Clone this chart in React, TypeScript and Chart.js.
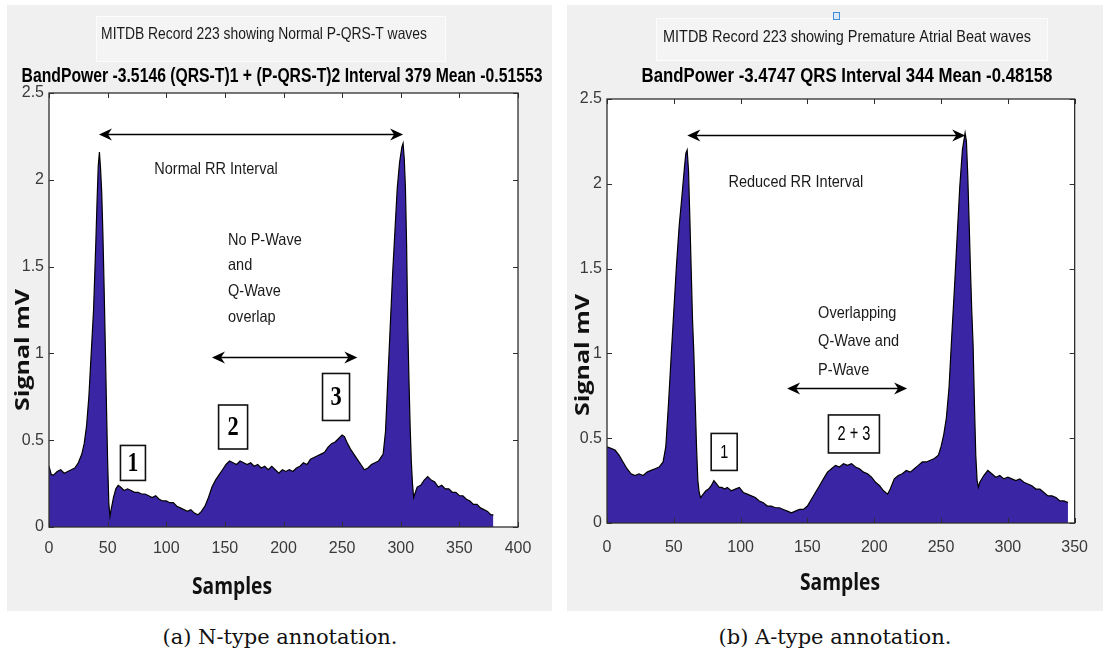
import React, { useEffect, useRef } from "react";
import { Chart, registerables } from "chart.js";

Chart.register(...registerables);

// ---------- Data: panel (a) N-type ----------
const N_X = [0, 2, 4, 7, 10, 13, 16, 19, 22, 25, 28, 30, 32, 34, 36, 38, 39, 40, 41, 42, 43, 44, 45, 46, 47, 48, 49, 50, 51, 52, 53, 55, 57, 59, 61, 64, 67, 70, 73, 76, 79, 82, 85, 88, 91, 94, 97, 100, 103, 106, 109, 112, 115, 118, 121, 124, 127, 130, 133, 136, 139, 142, 145, 148, 151, 154, 157, 160, 163, 166, 169, 172, 175, 178, 181, 184, 187, 190, 193, 196, 199, 202, 205, 208, 211, 214, 217, 220, 223, 226, 229, 232, 235, 238, 241, 244, 247, 250, 252, 254, 257, 260, 263, 266, 269, 272, 275, 278, 281, 283, 285, 287, 289, 291, 293, 295, 297, 299, 301, 302, 303, 304, 305, 306, 307, 308, 309, 310, 311, 312, 314, 317, 320, 323, 326, 329, 332, 335, 338, 341, 344, 347, 350, 353, 356, 359, 362, 365, 368, 371, 374, 377, 379];
const N_Y = [0.35, 0.30, 0.30, 0.32, 0.33, 0.31, 0.32, 0.33, 0.34, 0.37, 0.42, 0.48, 0.58, 0.75, 1.00, 1.25, 1.45, 1.65, 1.88, 2.08, 2.16, 2.06, 1.92, 1.68, 1.38, 1.05, 0.70, 0.38, 0.14, 0.06, 0.10, 0.17, 0.22, 0.24, 0.23, 0.21, 0.22, 0.21, 0.20, 0.20, 0.19, 0.19, 0.18, 0.17, 0.18, 0.16, 0.15, 0.15, 0.14, 0.14, 0.12, 0.11, 0.10, 0.09, 0.10, 0.08, 0.07, 0.09, 0.12, 0.17, 0.23, 0.27, 0.30, 0.33, 0.36, 0.38, 0.37, 0.36, 0.38, 0.37, 0.36, 0.37, 0.35, 0.36, 0.34, 0.35, 0.33, 0.35, 0.33, 0.31, 0.33, 0.32, 0.33, 0.32, 0.34, 0.35, 0.37, 0.36, 0.39, 0.40, 0.41, 0.42, 0.43, 0.46, 0.48, 0.49, 0.51, 0.53, 0.52, 0.49, 0.45, 0.42, 0.39, 0.36, 0.33, 0.34, 0.36, 0.37, 0.38, 0.40, 0.42, 0.55, 0.85, 1.15, 1.45, 1.70, 1.95, 2.10, 2.19, 2.21, 2.12, 1.95, 1.62, 1.15, 0.85, 0.58, 0.38, 0.25, 0.17, 0.19, 0.23, 0.24, 0.27, 0.29, 0.27, 0.26, 0.23, 0.24, 0.22, 0.22, 0.20, 0.20, 0.18, 0.18, 0.16, 0.15, 0.13, 0.13, 0.11, 0.10, 0.09, 0.07, 0.07];

// ---------- Data: panel (b) A-type ----------
const A_X = [0, 3, 6, 9, 12, 15, 18, 21, 24, 27, 30, 33, 36, 39, 42, 44, 46, 48, 50, 52, 54, 56, 58, 59, 60, 61, 62, 63, 64, 65, 66, 67, 68, 69, 70, 72, 74, 76, 78, 80, 82, 84, 86, 88, 90, 93, 96, 99, 102, 105, 108, 111, 114, 117, 120, 123, 126, 129, 132, 135, 138, 141, 144, 147, 150, 153, 156, 159, 162, 165, 168, 171, 174, 177, 180, 183, 186, 189, 192, 195, 198, 201, 204, 207, 210, 212, 215, 218, 221, 224, 227, 230, 233, 236, 239, 242, 245, 248, 250, 252, 254, 256, 258, 260, 262, 264, 266, 268, 269, 270, 271, 272, 273, 274, 275, 276, 277, 278, 279, 282, 285, 288, 291, 294, 297, 300, 303, 306, 309, 312, 315, 318, 321, 324, 327, 330, 333, 336, 339, 342, 345];
const A_Y = [0.45, 0.44, 0.43, 0.40, 0.36, 0.32, 0.29, 0.28, 0.29, 0.28, 0.30, 0.31, 0.32, 0.33, 0.36, 0.45, 0.70, 0.98, 1.25, 1.52, 1.75, 1.92, 2.10, 2.18, 2.20, 2.08, 1.80, 1.50, 1.20, 1.00, 0.72, 0.45, 0.25, 0.18, 0.15, 0.17, 0.19, 0.20, 0.22, 0.25, 0.23, 0.21, 0.21, 0.20, 0.21, 0.19, 0.20, 0.21, 0.18, 0.17, 0.16, 0.15, 0.13, 0.12, 0.10, 0.10, 0.09, 0.09, 0.08, 0.07, 0.06, 0.07, 0.08, 0.08, 0.10, 0.14, 0.18, 0.22, 0.26, 0.30, 0.32, 0.34, 0.33, 0.35, 0.34, 0.35, 0.33, 0.32, 0.30, 0.29, 0.27, 0.24, 0.22, 0.19, 0.17, 0.20, 0.26, 0.28, 0.29, 0.31, 0.30, 0.32, 0.34, 0.36, 0.36, 0.37, 0.38, 0.40, 0.45, 0.52, 0.62, 0.80, 1.10, 1.38, 1.68, 1.98, 2.20, 2.30, 2.25, 2.05, 1.78, 1.50, 1.25, 1.05, 0.70, 0.40, 0.25, 0.21, 0.24, 0.28, 0.31, 0.29, 0.27, 0.28, 0.26, 0.27, 0.26, 0.25, 0.26, 0.24, 0.23, 0.22, 0.20, 0.20, 0.18, 0.16, 0.16, 0.15, 0.13, 0.13, 0.12];

// ---------- Ticks ----------
const N_X_TICKS = [0, 50, 100, 150, 200, 250, 300, 350, 400];
const A_X_TICKS = [0, 50, 100, 150, 200, 250, 300, 350];
const Y_TICKS = [0, 0.5, 1, 1.5, 2, 2.5];

// ---------- Texts ----------
const N_HEAD = "MITDB Record 223 showing Normal P-QRS-T waves";
const N_TITLE = "BandPower -3.5146 (QRS-T)1 + (P-QRS-T)2 Interval 379 Mean -0.51553";
const A_HEAD = "MITDB Record 223 showing Premature Atrial Beat waves";
const A_TITLE = "BandPower -3.4747 QRS Interval 344 Mean -0.48158";
const X_LABEL = "Samples";
const Y_LABEL = "Signal mV";
const N_CAPTION = "(a) N-type annotation.";
const A_CAPTION = "(b) A-type annotation.";
const N_NOTES = [["Normal RR Interval"], ["No P-Wave", "and", "Q-Wave", "overlap"]];
const A_NOTES = [["Reduced RR Interval"], ["Overlapping", "Q-Wave and", "P-Wave"]];
const N_BOXES = ["1", "2", "3"];
const A_BOXES = ["1", "2 + 3"];

const FILL = "rgb(58,38,165)";
const SANS = '"Liberation Sans", Arial, sans-serif';

function fontAvailable(name: string) {
  const c = document.createElement("canvas").getContext("2d");
  if (!c) return false;
  const s = "mmmmmmmmmmlli0123456789WWW";
  c.font = "40px monospace";
  const a = c.measureText(s).width;
  c.font = `40px "${name}", monospace`;
  const b = c.measureText(s).width;
  return Math.abs(a - b) > 0.5;
}

function drawText(ctx: CanvasRenderingContext2D, s: string, x: number, y: number, font: string, sx: number, align: CanvasTextAlign = "center", rot = 0, color = "#111") {
  ctx.save();
  ctx.translate(x, y);
  ctx.scale(sx, 1);
  if (rot) ctx.rotate(rot);
  ctx.font = font;
  ctx.fillStyle = color;
  ctx.textAlign = align;
  ctx.textBaseline = "middle";
  ctx.fillText(s, 0, 0);
  ctx.restore();
}

function drawArrow(ctx: CanvasRenderingContext2D, x1: number, x2: number, y: number) {
  ctx.save();
  ctx.strokeStyle = "#000";
  ctx.fillStyle = "#000";
  ctx.lineWidth = 1.6;
  ctx.beginPath();
  ctx.moveTo(x1 + 8, y);
  ctx.lineTo(x2 - 8, y);
  ctx.stroke();
  const head = (tx: number, dir: number) => {
    const L = 13, W = 6, N = 9;
    ctx.beginPath();
    ctx.moveTo(tx, y);
    ctx.lineTo(tx - dir * L, y - W);
    ctx.lineTo(tx - dir * N, y);
    ctx.lineTo(tx - dir * L, y + W);
    ctx.closePath();
    ctx.fill();
  };
  head(x1, -1);
  head(x2, 1);
  ctx.restore();
}

type Note = { lines: string[]; x: number; y: number; align: CanvasTextAlign; lh: number; sx: number };
type Box = { label: string; x: number; y: number; w: number; h: number; font: string; sx: number };
type PanelCfg = {
  xs: number[]; ys: number[]; xMax: number; xTicks: number[];
  yAxisWidth: number; xAxisHeight: number; padRight: number; padTop: number; xTickPad: number;
  headBox: number[]; marker?: number[];
  head: { text: string; x: number; y: number; size: number; sx: number };
  title: { text: string; x: number; y: number; size: number; sx: number };
  ylab: { x: number; y: number }; xlab: { x: number; y: number };
  arrows: { x1: number; x2: number; y: number }[];
  notes: Note[]; boxes: Box[];
};

const N_CFG: PanelCfg = {
  xs: N_X, ys: N_Y, xMax: 400, xTicks: N_X_TICKS,
  yAxisWidth: 42, xAxisHeight: 84, padRight: 34, padTop: 88, xTickPad: 12,
  headBox: [89, 11, 349, 45],
  head: { text: N_HEAD, x: 257, y: 29, size: 16.5, sx: 0.84 },
  title: { text: N_TITLE, x: 275, y: 71, size: 20, sx: 0.787 },
  ylab: { x: 16, y: 345 }, xlab: { x: 225, y: 582 },
  arrows: [{ x1: 42.6, x2: 302, y: 2.265 }, { x1: 139, x2: 263, y: 0.98 }],
  notes: [
    { lines: N_NOTES[0], x: 142.4, y: 2.06, align: "center", lh: 26, sx: 0.88 },
    { lines: N_NOTES[1], x: 152.7, y: 1.653, align: "left", lh: 25.7, sx: 0.88 },
  ],
  boxes: [
    { label: N_BOXES[0], x: 71.6, y: 0.369, w: 25, h: 35, font: 'bold 27px "Liberation Serif", serif', sx: 0.8 },
    { label: N_BOXES[1], x: 157, y: 0.576, w: 29, h: 44, font: 'bold 28px "Liberation Serif", serif', sx: 0.8 },
    { label: N_BOXES[2], x: 244.8, y: 0.749, w: 27, h: 47, font: 'bold 28px "Liberation Serif", serif', sx: 0.8 },
  ],
};

const A_CFG: PanelCfg = {
  xs: A_X, ys: A_Y, xMax: 350, xTicks: A_X_TICKS,
  yAxisWidth: 40, xAxisHeight: 88, padRight: 11, padTop: 94, xTickPad: 15,
  headBox: [89, 13, 391, 42], marker: [266, 7, 6, 7],
  head: { text: A_HEAD, x: 280, y: 32, size: 16.5, sx: 0.876 },
  title: { text: A_TITLE, x: 280, y: 71, size: 20, sx: 0.84 },
  ylab: { x: 16, y: 350 }, xlab: { x: 273, y: 578 },
  arrows: [{ x1: 60.1, x2: 268.1, y: 2.288 }, { x1: 134.8, x2: 224.6, y: 0.796 }],
  notes: [
    { lines: A_NOTES[0], x: 141.3, y: 2.005, align: "center", lh: 26, sx: 0.88 },
    { lines: A_NOTES[1], x: 158, y: 1.238, align: "left", lh: 28.5, sx: 0.88 },
  ],
  boxes: [
    { label: A_BOXES[0], x: 87.7, y: 0.419, w: 26, h: 37, font: "18px " + SANS, sx: 0.8 },
    { label: A_BOXES[1], x: 184.8, y: 0.525, w: 51, h: 38, font: "20px " + SANS, sx: 0.73 },
  ],
};

function ChartPanel({ cfg, left, top, width, height }: { cfg: PanelCfg; left: number; top: number; width: number; height: number }) {
  const ref = useRef<HTMLCanvasElement | null>(null);
  useEffect(() => {
    if (!ref.current) return;
    const narrow = fontAvailable("Liberation Sans Narrow");
    const tickFont = narrow
      ? { family: '"Liberation Sans Narrow", "Liberation Sans", sans-serif', size: 18 }
      : { family: SANS, size: 16 };
    const c = cfg;
    const decor = {
      id: "decor",
      beforeDraw(chart: any) {
        const { ctx, chartArea: a } = chart;
        ctx.save();
        ctx.fillStyle = "#ffffff";
        ctx.fillRect(a.left, a.top, a.right - a.left, a.bottom - a.top);
        const [bx, by, bw, bh] = c.headBox;
        ctx.fillStyle = "#f4f4f4";
        ctx.fillRect(bx, by, bw, bh);
        ctx.strokeStyle = "#fcfcfc";
        ctx.lineWidth = 1;
        ctx.strokeRect(bx + 0.5, by + 0.5, bw, bh);
        if (c.marker) {
          const [mx, my, mw, mh] = c.marker;
          ctx.fillStyle = "#dbe9f8";
          ctx.fillRect(mx, my, mw, mh);
          ctx.strokeStyle = "#3d8ee0";
          ctx.strokeRect(mx + 0.5, my + 0.5, mw, mh);
        }
        drawText(ctx, c.head.text, c.head.x, c.head.y, `${c.head.size}px ${SANS}`, c.head.sx, "center", 0, "#1a1a1a");
        drawText(ctx, c.title.text, c.title.x, c.title.y, `bold ${c.title.size}px ${SANS}`, c.title.sx, "center", 0, "#000");
        drawText(ctx, Y_LABEL, c.ylab.x, c.ylab.y, 'bold 25px "Open Sans", sans-serif', 0.8, "center", -Math.PI / 2, "#111");
        drawText(ctx, X_LABEL, c.xlab.x, c.xlab.y, 'bold 24px "Open Sans", sans-serif', 0.8, "center", 0, "#111");
        ctx.restore();
      },
      afterDatasetsDraw(chart: any) {
        const { ctx, chartArea: a, scales } = chart;
        const xs = scales.x, ys = scales.y;
        ctx.save();
        ctx.strokeStyle = "#2e2e2e";
        ctx.lineWidth = 1.3;
        ctx.strokeRect(a.left, a.top, a.right - a.left, a.bottom - a.top);
        ctx.lineWidth = 1;
        ctx.beginPath();
        c.xTicks.forEach((v) => {
          const px = Math.round(xs.getPixelForValue(v)) + 0.5;
          ctx.moveTo(px, a.bottom); ctx.lineTo(px, a.bottom - 5);
          ctx.moveTo(px, a.top); ctx.lineTo(px, a.top + 5);
        });
        Y_TICKS.forEach((v) => {
          const py = Math.round(ys.getPixelForValue(v)) + 0.5;
          ctx.moveTo(a.left, py); ctx.lineTo(a.left + 5, py);
          ctx.moveTo(a.right, py); ctx.lineTo(a.right - 5, py);
        });
        ctx.stroke();
        c.arrows.forEach((ar) => {
          drawArrow(ctx, xs.getPixelForValue(ar.x1), xs.getPixelForValue(ar.x2), Math.round(ys.getPixelForValue(ar.y)) + 0.5);
        });
        c.notes.forEach((n) => {
          const x0 = xs.getPixelForValue(n.x);
          const y0 = ys.getPixelForValue(n.y);
          n.lines.forEach((ln, i) => drawText(ctx, ln, x0, y0 + i * n.lh, `16.5px ${SANS}`, n.sx, n.align, 0, "#1a1a1a"));
        });
        c.boxes.forEach((b) => {
          const cx = xs.getPixelForValue(b.x);
          const cy = ys.getPixelForValue(b.y);
          ctx.fillStyle = "#ffffff";
          ctx.fillRect(cx - b.w / 2, cy - b.h / 2, b.w, b.h);
          ctx.strokeStyle = "#111";
          ctx.lineWidth = 1.6;
          ctx.strokeRect(cx - b.w / 2, cy - b.h / 2, b.w, b.h);
          drawText(ctx, b.label, cx, cy + 1, b.font, b.sx, "center", 0, "#000");
        });
        ctx.restore();
      },
    };
    const points = c.xs.map((x, i) => ({ x, y: c.ys[i] }));
    const chart = new Chart(ref.current, {
      type: "line",
      data: {
        datasets: [
          {
            data: points,
            fill: "origin",
            backgroundColor: FILL,
            borderColor: "#000",
            borderWidth: 1.2,
            pointRadius: 0,
            tension: 0,
          },
        ],
      },
      options: {
        animation: false,
        responsive: true,
        maintainAspectRatio: false,
        events: [],
        layout: { padding: { left: 0, right: c.padRight, top: c.padTop, bottom: 0 } },
        plugins: { legend: { display: false }, tooltip: { enabled: false }, title: { display: false } },
        scales: {
          x: {
            type: "linear",
            min: 0,
            max: c.xMax,
            grid: { display: false, drawTicks: false },
            border: { display: false },
            afterBuildTicks: (s: any) => { s.ticks = c.xTicks.map((v) => ({ value: v })); },
            afterFit: (s: any) => { s.height = c.xAxisHeight; },
            ticks: { font: tickFont, color: "#3a3a3a", padding: c.xTickPad, maxRotation: 0, autoSkip: false, callback: (v: any) => String(v) },
          },
          y: {
            type: "linear",
            min: 0,
            max: 2.5,
            grid: { display: false, drawTicks: false },
            border: { display: false },
            afterBuildTicks: (s: any) => { s.ticks = Y_TICKS.map((v) => ({ value: v })); },
            afterFit: (s: any) => { s.width = c.yAxisWidth; },
            ticks: { font: tickFont, color: "#3a3a3a", padding: 5, autoSkip: false, callback: (v: any) => String(v) },
          },
        },
      } as any,
      plugins: [decor],
    });
    return () => chart.destroy();
  }, [cfg]);
  return (
    <div style={{ position: "absolute", left, top, width, height, background: "#f0f0f0" }}>
      <canvas ref={ref} />
    </div>
  );
}

export default function App() {
  const cap: React.CSSProperties = {
    position: "absolute",
    top: 624,
    width: 400,
    textAlign: "center",
    fontFamily: '"DejaVu Serif", "Liberation Serif", serif',
    fontSize: 21,
    lineHeight: "26px",
    color: "#111",
    whiteSpace: "nowrap",
  };
  return (
    <div style={{ position: "absolute", left: 0, top: 0, width: 1103, height: 653, background: "#fff", overflow: "hidden" }}>
      <ChartPanel cfg={N_CFG} left={7} top={5} width={545} height={606} />
      <ChartPanel cfg={A_CFG} left={567} top={5} width={536} height={606} />
      <div style={{ ...cap, left: 280 - 200 }}>{N_CAPTION}</div>
      <div style={{ ...cap, left: 835 - 200 }}>{A_CAPTION}</div>
    </div>
  );
}
